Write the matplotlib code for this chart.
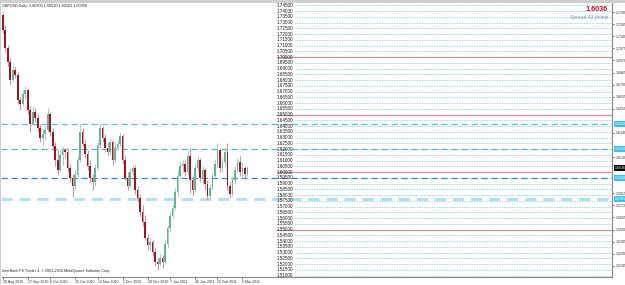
import matplotlib
matplotlib.use("Agg")
import matplotlib.pyplot as plt
from matplotlib.patches import Rectangle

plt.rcParams['font.family'] = ['Liberation Sans', 'DejaVu Sans']

# ---- data (GBPUSD daily candles) ----
opens = [1.7366, 1.7235, 1.7079, 1.6957, 1.6800, 1.6887, 1.6844, 1.6626, 1.6592, 1.6679,
         1.6713, 1.6539, 1.6418, 1.6522, 1.6470, 1.6383, 1.6296, 1.6331, 1.6365, 1.6505,
         1.6348, 1.6226, 1.6104, 1.6017, 1.6148, 1.6191, 1.6174, 1.6035, 1.5948, 1.5878,
         1.5974, 1.6104, 1.6348, 1.6244, 1.6157, 1.6052, 1.5948, 1.5913, 1.6035, 1.6235,
         1.6383, 1.6296, 1.6209, 1.6174, 1.6261, 1.6104, 1.6209, 1.6244, 1.6313, 1.6104,
         1.5948, 1.5878, 1.6000, 1.6035, 1.5843, 1.5774, 1.5652, 1.5565, 1.5426, 1.5365,
         1.5391, 1.5304, 1.5217, 1.5200, 1.5252, 1.5217, 1.5374, 1.5513, 1.5617, 1.5687,
         1.5826, 1.5965, 1.6052, 1.6070, 1.6000, 1.6139, 1.5930, 1.5843, 1.6035, 1.6104,
         1.5948, 1.6017, 1.5896, 1.5791, 1.5861, 1.5965, 1.6070, 1.6191, 1.6035, 1.6087,
         1.6174, 1.5878, 1.5809, 1.5930, 1.6017, 1.6087, 1.6000, 1.6035, 1.5983]
highs = [1.7391, 1.7279, 1.7105, 1.6992, 1.6922, 1.6914, 1.6870, 1.6653, 1.6713, 1.6748,
         1.6731, 1.6574, 1.6574, 1.6557, 1.6505, 1.6418, 1.6383, 1.6400, 1.6557, 1.6522,
         1.6383, 1.6261, 1.6191, 1.6191, 1.6226, 1.6209, 1.6209, 1.6070, 1.5983, 1.6017,
         1.6139, 1.6418, 1.6383, 1.6278, 1.6191, 1.6104, 1.5983, 1.6070, 1.6261, 1.6418,
         1.6400, 1.6331, 1.6261, 1.6296, 1.6278, 1.6261, 1.6278, 1.6348, 1.6331, 1.6139,
         1.6000, 1.6035, 1.6061, 1.6061, 1.5878, 1.5809, 1.5713, 1.5626, 1.5461, 1.5426,
         1.5408, 1.5339, 1.5252, 1.5287, 1.5278, 1.5408, 1.5539, 1.5652, 1.5722, 1.5861,
         1.6017, 1.6087, 1.6104, 1.6104, 1.6191, 1.6209, 1.5965, 1.6070, 1.6139, 1.6122,
         1.6052, 1.6035, 1.5930, 1.5896, 1.6000, 1.6104, 1.6252, 1.6209, 1.6122, 1.6209,
         1.6252, 1.5913, 1.5965, 1.6052, 1.6122, 1.6139, 1.6087, 1.6052, 1.6052]
lows = [1.7209, 1.7044, 1.6922, 1.6766, 1.6783, 1.6818, 1.6592, 1.6539, 1.6574, 1.6644,
        1.6505, 1.6348, 1.6400, 1.6435, 1.6348, 1.6261, 1.6226, 1.6278, 1.6348, 1.6313,
        1.6191, 1.6052, 1.5974, 1.6000, 1.6061, 1.6122, 1.6000, 1.5913, 1.5783, 1.5843,
        1.5948, 1.6087, 1.6226, 1.6122, 1.6017, 1.5913, 1.5843, 1.5878, 1.6017, 1.6209,
        1.6261, 1.6174, 1.6139, 1.6148, 1.6061, 1.6087, 1.6191, 1.6226, 1.6070, 1.5930,
        1.5843, 1.5861, 1.5965, 1.5809, 1.5739, 1.5617, 1.5530, 1.5408, 1.5321, 1.5321,
        1.5269, 1.5182, 1.5147, 1.5182, 1.5165, 1.5200, 1.5339, 1.5478, 1.5600, 1.5669,
        1.5791, 1.5948, 1.6000, 1.5965, 1.5983, 1.5817, 1.5791, 1.5826, 1.6000, 1.5913,
        1.5896, 1.5843, 1.5756, 1.5756, 1.5843, 1.5948, 1.6035, 1.6000, 1.6000, 1.6052,
        1.5843, 1.5774, 1.5791, 1.5896, 1.6000, 1.5965, 1.5965, 1.5948, 1.5965]
closes = [1.7235, 1.7079, 1.6957, 1.6800, 1.6887, 1.6844, 1.6626, 1.6592, 1.6679, 1.6713,
          1.6539, 1.6418, 1.6522, 1.6470, 1.6383, 1.6296, 1.6331, 1.6365, 1.6505, 1.6348,
          1.6226, 1.6104, 1.6017, 1.6148, 1.6191, 1.6174, 1.6035, 1.5948, 1.5878, 1.5974,
          1.6104, 1.6348, 1.6244, 1.6157, 1.6052, 1.5948, 1.5913, 1.6035, 1.6235, 1.6383,
          1.6296, 1.6209, 1.6174, 1.6261, 1.6104, 1.6209, 1.6244, 1.6313, 1.6104, 1.5948,
          1.5878, 1.6000, 1.6035, 1.5843, 1.5774, 1.5652, 1.5565, 1.5426, 1.5365, 1.5391,
          1.5304, 1.5217, 1.5200, 1.5252, 1.5217, 1.5374, 1.5513, 1.5617, 1.5687, 1.5826,
          1.5965, 1.6052, 1.6070, 1.6000, 1.6139, 1.5930, 1.5843, 1.6035, 1.6104, 1.5948,
          1.6017, 1.5896, 1.5791, 1.5861, 1.5965, 1.6070, 1.6191, 1.6035, 1.6087, 1.6174,
          1.5878, 1.5809, 1.5930, 1.6017, 1.6087, 1.6000, 1.6035, 1.5983, 1.6036]

date_labels = ["20 Aug 2010", "17 Sep 2010", "6 Oct 2010", "25 Oct 2010", "12 Nov 2010",
               "1 Dec 2010", "20 Dec 2010", "7 Jan 2011", "26 Jan 2011", "15 Feb 2011",
               "6 Mar 2011"]
date_bars = [0, 10, 19, 29, 38, 48, 58, 67, 77, 86, 96]

# price-level list drawn on the chart (every 0.005)
level_labels = ["1.74500", "1.74000", "1.73500", "1.73000", "1.72500", "1.72000", "1.71500",
                "1.71000", "1.70500", "1.70000", "1.69500", "1.69000", "1.68500", "1.68000",
                "1.67500", "1.67000", "1.66500", "1.66000", "1.65500", "1.65000", "1.64500",
                "1.64000", "1.63500", "1.63000", "1.62500", "1.62000", "1.61500", "1.61000",
                "1.60500", "1.60000", "1.59500", "1.59000", "1.58500", "1.58000", "1.57500",
                "1.57000", "1.56500", "1.56000", "1.55500", "1.55000", "1.54500", "1.54000",
                "1.53500", "1.53000", "1.52500", "1.52000", "1.51500", "1.51000"]
major_levels = [1.70, 1.65, 1.60, 1.55]
sr_levels = [1.6418, 1.6200, 1.5948, 1.5765]
sr_labels = ["1.6418", "1.6200", "1.5948", "1.5765"]
current_price = 1.6036
axis_ticks = [1.7390, 1.7285, 1.7180, 1.7075, 1.6970, 1.6865, 1.6760, 1.6655, 1.6550,
              1.6340, 1.6130, 1.5815, 1.5710, 1.5605, 1.5500, 1.5395, 1.5290, 1.5185]

# ---- figure ----
W, H = 625, 285
fig = plt.figure(figsize=(W / 100, H / 100), dpi=100)
fig.patch.set_facecolor('white')
fig.add_artist(Rectangle((0, 1 - 3 / H), 1, 3 / H, transform=fig.transFigure,
                         facecolor='#cfcfcf', edgecolor='none'))
fig.add_artist(Rectangle((0, 0), 1.2 / W, 1, transform=fig.transFigure,
                         facecolor='#cfcfcf', edgecolor='none'))

left, right, top, bottom = 1.5 / W, 612 / W, 1 - 3 / H, 1 - 277 / H
ax = fig.add_axes([left, bottom, right - left, top - bottom])
ax.set_xlim(-0.5, 244)
ax.set_ylim(1.5087, 1.7470)
ax.set_facecolor('white')
for s in ['top', 'left']:
    ax.spines[s].set_visible(False)
ax.spines['right'].set_color('#888888')
ax.spines['right'].set_linewidth(0.8)
ax.spines['bottom'].set_color('#888888')
ax.spines['bottom'].set_linewidth(0.8)

ytr = ax.get_yaxis_transform()

# level list
lab_x = (277 - 1.5) / (612 - 1.5)
line_x = (295 - 1.5) / (612 - 1.5)
for lab in level_labels:
    v = float(lab)
    ax.text(lab_x, v, lab, transform=ytr, fontsize=3.3, color='#1a1a1a',
            va='center', ha='left')
    ax.axhline(v, xmin=line_x, xmax=1, color='#8cc6d8', lw=0.6,
               linestyle=(0, (1, 1)))
for v in major_levels:
    ax.axhline(v, xmin=lab_x, xmax=1, color='#c9939b', lw=0.9)

# support / resistance dashed lines
ax.axhline(sr_levels[0], color='#5fbdd2', lw=0.9, linestyle=(0, (5, 3)), zorder=2.5)
ax.axhline(sr_levels[1], color='#58b2c6', lw=0.9, linestyle=(0, (5, 3)), zorder=2.5)
ax.axhline(sr_levels[2], color='#2f8fb2', lw=0.9, linestyle=(0, (5, 3)), zorder=2.5)
ax.axhline(sr_levels[3], color='#aee0ec', lw=2.0, linestyle=(0, (4, 2.5)), zorder=2.5)

# candles
up_c, dn_c = '#6ab197', '#9e1526'
for i, (o, h, l, c) in enumerate(zip(opens, highs, lows, closes)):
    col = up_c if c >= o else dn_c
    wcol = '#a3d0bf' if c >= o else '#d3949e'
    ax.vlines(i, l, h, color=wcol, lw=0.75, zorder=3)
    b = min(o, c)
    hgt = max(abs(c - o), 0.0004)
    ax.bar(i, hgt, bottom=b, width=0.66, color=col, edgecolor='none', zorder=4)

# right axis
ax.yaxis.tick_right()
ax.set_yticks(axis_ticks)
ax.set_yticklabels([f"{v:.4f}" for v in axis_ticks])
ax.tick_params(axis='y', labelsize=2.6, length=1.5, width=0.5, pad=1,
               colors='#333333')
for v, lab in zip(sr_levels, sr_labels):
    ax.text(1.004, v, lab, transform=ytr, fontsize=2.6, color='#ffffff',
            va='center', ha='left', zorder=10, clip_on=False,
            bbox=dict(boxstyle='square,pad=0.25', facecolor='#3fc0ea',
                      edgecolor='none'))
ax.text(1.004, current_price, f"{current_price:.4f}", transform=ytr, fontsize=2.6,
        color='#ffffff', va='center', ha='left', zorder=10, clip_on=False,
        bbox=dict(boxstyle='square,pad=0.25', facecolor='#000000', edgecolor='none'))

# bottom date axis
ax.set_xticks(date_bars)
ax.set_xticklabels(date_labels, ha='left')
ax.tick_params(axis='x', labelsize=2.6, length=1.5, width=0.5, pad=0.6,
               colors='#333333', direction='out')

# texts
ax.text(0.001, 0.995, "GBPUSD,Daily  1.60300 1.60530 1.60163 1.60358",
        transform=ax.transAxes, fontsize=2.7, color='#222222', va='top', ha='left')
ax.text(0.001, 0.015, "InterBank FX Trader 4, \u00a9 2001-2010 MetaQuotes Software Corp.",
        transform=ax.transAxes, fontsize=2.7, color='#222222', va='bottom', ha='left')
ax.text(0.9935, 0.99, "1.6036", transform=ax.transAxes, fontsize=5.2,
        color='#c0141e', fontweight='bold', va='top', ha='right')
ax.text(0.9935, 0.955, "Spread 42 points", transform=ax.transAxes, fontsize=3.6,
        color='#7f98a8', va='top', ha='right')

fig.savefig('out.png', dpi=100)
